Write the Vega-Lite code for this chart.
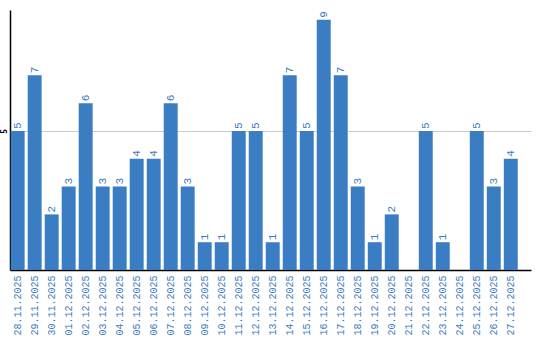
{
  "$schema": "https://vega.github.io/schema/vega-lite/v6.json",
  "width": 521,
  "height": 260,
  "autosize": {"type": "none"},
  "padding": {"left": 10, "top": 10, "right": 9, "bottom": 70},
  "background": "white",
  "data": {"values": [
    {"date": "28.11.2025", "n": 5}, {"date": "29.11.2025", "n": 7}, {"date": "30.11.2025", "n": 2},
    {"date": "01.12.2025", "n": 3}, {"date": "02.12.2025", "n": 6}, {"date": "03.12.2025", "n": 3},
    {"date": "04.12.2025", "n": 3}, {"date": "05.12.2025", "n": 4}, {"date": "06.12.2025", "n": 4},
    {"date": "07.12.2025", "n": 6}, {"date": "08.12.2025", "n": 3}, {"date": "09.12.2025", "n": 1},
    {"date": "10.12.2025", "n": 1}, {"date": "11.12.2025", "n": 5}, {"date": "12.12.2025", "n": 5},
    {"date": "13.12.2025", "n": 1}, {"date": "14.12.2025", "n": 7}, {"date": "15.12.2025", "n": 5},
    {"date": "16.12.2025", "n": 9}, {"date": "17.12.2025", "n": 7}, {"date": "18.12.2025", "n": 3},
    {"date": "19.12.2025", "n": 1}, {"date": "20.12.2025", "n": 2}, {"date": "21.12.2025", "n": 0},
    {"date": "22.12.2025", "n": 5}, {"date": "23.12.2025", "n": 1}, {"date": "24.12.2025", "n": 0},
    {"date": "25.12.2025", "n": 5}, {"date": "26.12.2025", "n": 3}, {"date": "27.12.2025", "n": 4}
  ]},
  "encoding": {
    "x": {
      "field": "date", "type": "ordinal", "sort": null,
      "scale": {"paddingInner": 0.18, "paddingOuter": 0.41, "align": 0.05},
      "axis": {
        "title": null, "labelAngle": -90, "labelAlign": "right", "labelBaseline": "middle",
        "labelFont": "Liberation Mono", "labelFontSize": 10, "labelColor": "#3a7cc0",
        "ticks": false, "labelPadding": 5, "domainColor": "#000000", "domainWidth": 1.5,
        "grid": false
      }
    },
    "y": {
      "field": "n", "type": "quantitative",
      "scale": {"domain": [0, 9.35], "nice": false},
      "axis": {
        "title": null, "values": [5], "labelAngle": -90, "labelAlign": "center",
        "labelBaseline": "bottom", "labelFont": "DejaVu Sans Mono", "labelFontSize": 8,
        "labelFontWeight": "bold",
        "labelColor": "#000000", "ticks": false, "labelPadding": 2,
        "domainColor": "#000000", "domainWidth": 1.5, "grid": true, "gridColor": "#cccccc",
        "gridWidth": 1
      }
    }
  },
  "layer": [
    {"mark": {"type": "bar", "color": "#3b7dc2"}},
    {
      "transform": [{"filter": "datum.n > 0"}],
      "mark": {"type": "text", "angle": -90, "align": "left", "baseline": "middle", "dx": 2,
               "font": "Liberation Mono", "fontSize": 11, "color": "#3a7cc0"},
      "encoding": {"text": {"field": "n", "type": "quantitative"}}
    }
  ],
  "config": {"view": {"stroke": null}}
}
